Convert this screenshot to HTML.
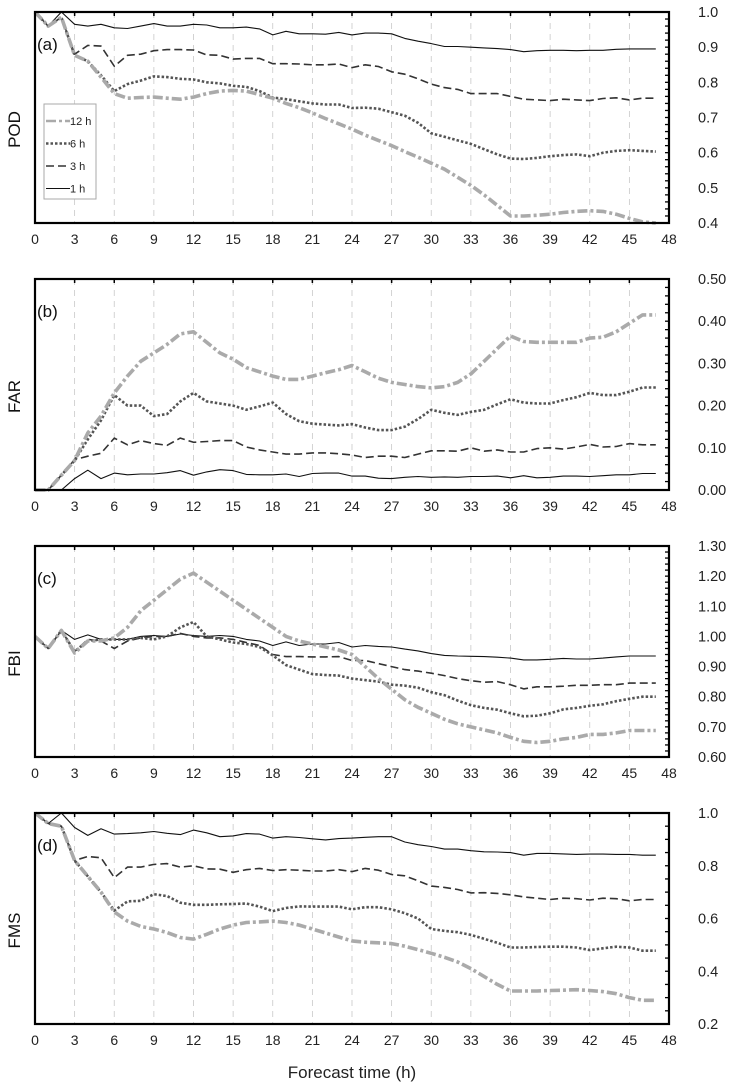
<!DOCTYPE html>
<html><head><meta charset="utf-8">
<style>
html,body{margin:0;padding:0;background:#fff;}
svg{display:block;font-family:"Liberation Sans",sans-serif;}
</style></head>
<body>
<svg id="chart" width="729" height="1089" viewBox="0 0 729 1089" xmlns="http://www.w3.org/2000/svg"></svg>
<script>
const hours = Array.from({length:48},(_,i)=>i);
const xTicks = [0,3,6,9,12,15,18,21,24,27,30,33,36,39,42,45,48];
const seriesNames = ["1 h","3 h","6 h","12 h"];

const podH1 = [1.0,0.96,1.0,0.965,0.96,0.965,0.955,0.953,0.96,0.967,0.96,0.96,0.965,0.963,0.955,0.955,0.957,0.952,0.935,0.945,0.938,0.938,0.937,0.942,0.935,0.94,0.94,0.938,0.925,0.917,0.91,0.902,0.902,0.9,0.898,0.896,0.893,0.887,0.89,0.891,0.891,0.89,0.891,0.891,0.894,0.895,0.895,0.895];
const podH3 = [1.0,0.96,0.985,0.88,0.905,0.903,0.846,0.877,0.88,0.89,0.893,0.893,0.892,0.878,0.877,0.866,0.868,0.868,0.853,0.853,0.852,0.85,0.85,0.852,0.842,0.85,0.845,0.83,0.823,0.81,0.795,0.785,0.78,0.768,0.768,0.768,0.76,0.752,0.75,0.748,0.752,0.75,0.748,0.754,0.756,0.75,0.755,0.755];
const podH6 = [1.0,0.96,0.985,0.877,0.86,0.82,0.775,0.795,0.805,0.817,0.815,0.81,0.808,0.8,0.797,0.79,0.787,0.775,0.757,0.752,0.746,0.74,0.737,0.737,0.727,0.728,0.725,0.715,0.705,0.685,0.655,0.645,0.635,0.625,0.61,0.595,0.583,0.582,0.585,0.59,0.593,0.595,0.59,0.6,0.605,0.607,0.605,0.603];
const podH12 = [1.0,0.96,0.985,0.877,0.86,0.815,0.768,0.755,0.757,0.758,0.755,0.752,0.758,0.768,0.775,0.777,0.775,0.765,0.755,0.74,0.728,0.713,0.697,0.682,0.667,0.65,0.635,0.62,0.603,0.587,0.57,0.553,0.53,0.507,0.48,0.45,0.42,0.42,0.422,0.425,0.43,0.433,0.435,0.433,0.425,0.413,0.403,0.4];

const farH1 = [0,0,0,0.027,0.047,0.027,0.04,0.036,0.038,0.038,0.041,0.046,0.035,0.043,0.048,0.046,0.037,0.036,0.036,0.038,0.032,0.039,0.04,0.04,0.033,0.033,0.028,0.027,0.03,0.032,0.03,0.031,0.03,0.032,0.032,0.033,0.029,0.034,0.029,0.03,0.033,0.033,0.032,0.034,0.036,0.036,0.039,0.039];
const farH3 = [0,0,0.035,0.072,0.08,0.087,0.123,0.107,0.117,0.11,0.106,0.123,0.113,0.115,0.117,0.117,0.102,0.095,0.09,0.085,0.085,0.088,0.088,0.086,0.083,0.077,0.08,0.08,0.077,0.085,0.093,0.093,0.092,0.1,0.092,0.095,0.09,0.09,0.098,0.1,0.097,0.102,0.108,0.102,0.103,0.11,0.107,0.107];
const farH6 = [0,0,0.035,0.07,0.12,0.165,0.225,0.2,0.2,0.175,0.18,0.21,0.23,0.21,0.205,0.2,0.19,0.198,0.207,0.18,0.163,0.157,0.155,0.153,0.156,0.148,0.142,0.142,0.15,0.168,0.19,0.183,0.178,0.185,0.19,0.203,0.215,0.207,0.205,0.205,0.213,0.22,0.23,0.225,0.225,0.233,0.243,0.243];
const farH12 = [0,0,0.035,0.07,0.135,0.175,0.23,0.27,0.305,0.325,0.345,0.37,0.375,0.35,0.325,0.31,0.29,0.28,0.27,0.262,0.262,0.27,0.278,0.285,0.295,0.28,0.265,0.255,0.25,0.245,0.242,0.245,0.255,0.275,0.305,0.335,0.365,0.352,0.35,0.35,0.35,0.35,0.36,0.362,0.375,0.395,0.415,0.415];

const fbiH1 = [1.0,0.96,1.02,0.99,1.005,0.99,0.99,0.99,1.0,1.003,1.0,1.008,1.003,1.0,1.003,1.0,0.99,0.985,0.97,0.982,0.97,0.975,0.975,0.98,0.965,0.97,0.967,0.965,0.958,0.952,0.943,0.937,0.935,0.934,0.933,0.931,0.928,0.922,0.922,0.924,0.927,0.925,0.925,0.928,0.932,0.935,0.935,0.935];
const fbiH3 = [1.0,0.96,1.02,0.95,0.99,0.985,0.96,0.985,0.995,1.0,1.0,1.01,1.0,0.995,0.995,0.99,0.98,0.97,0.94,0.933,0.933,0.932,0.932,0.933,0.92,0.92,0.91,0.9,0.89,0.885,0.878,0.87,0.86,0.853,0.848,0.85,0.84,0.826,0.833,0.833,0.835,0.838,0.838,0.84,0.84,0.845,0.845,0.845];
const fbiH6 = [1.0,0.96,1.02,0.95,0.985,0.99,0.99,0.99,0.995,0.99,1.0,1.03,1.048,1.0,0.99,0.98,0.975,0.965,0.937,0.905,0.89,0.875,0.872,0.87,0.86,0.855,0.85,0.84,0.837,0.83,0.815,0.805,0.787,0.772,0.763,0.757,0.745,0.735,0.737,0.745,0.758,0.763,0.77,0.775,0.785,0.793,0.8,0.8];
const fbiH12 = [1.0,0.96,1.02,0.945,0.985,0.985,0.995,1.03,1.085,1.12,1.155,1.19,1.21,1.18,1.15,1.12,1.09,1.06,1.03,1.0,0.985,0.975,0.965,0.955,0.94,0.9,0.86,0.825,0.79,0.765,0.745,0.725,0.71,0.7,0.69,0.68,0.665,0.652,0.648,0.652,0.66,0.665,0.675,0.675,0.68,0.688,0.688,0.688];

const fmsH1 = [1.0,0.96,1.0,0.945,0.915,0.94,0.92,0.922,0.925,0.93,0.923,0.918,0.935,0.925,0.91,0.913,0.922,0.92,0.905,0.91,0.907,0.902,0.898,0.903,0.905,0.908,0.91,0.91,0.89,0.88,0.873,0.863,0.863,0.857,0.853,0.852,0.85,0.84,0.847,0.847,0.845,0.843,0.844,0.844,0.843,0.843,0.84,0.84];
const fmsH3 = [1.0,0.96,0.95,0.82,0.835,0.83,0.755,0.795,0.795,0.805,0.808,0.795,0.8,0.788,0.787,0.775,0.785,0.79,0.782,0.785,0.783,0.78,0.78,0.785,0.778,0.79,0.783,0.767,0.762,0.743,0.723,0.718,0.71,0.697,0.698,0.695,0.69,0.682,0.677,0.672,0.677,0.675,0.67,0.677,0.675,0.667,0.672,0.672];
const fmsH6 = [1.0,0.96,0.95,0.82,0.76,0.7,0.63,0.665,0.667,0.692,0.685,0.66,0.652,0.652,0.654,0.655,0.657,0.645,0.628,0.64,0.646,0.645,0.645,0.645,0.635,0.643,0.643,0.635,0.62,0.6,0.56,0.553,0.548,0.538,0.523,0.508,0.49,0.49,0.492,0.493,0.493,0.49,0.48,0.487,0.493,0.49,0.478,0.478];
const fmsH12 = [1.0,0.96,0.95,0.82,0.76,0.7,0.625,0.59,0.57,0.56,0.547,0.528,0.522,0.54,0.56,0.575,0.585,0.587,0.59,0.585,0.575,0.56,0.545,0.53,0.515,0.51,0.508,0.505,0.495,0.482,0.468,0.453,0.435,0.41,0.38,0.35,0.325,0.325,0.325,0.327,0.328,0.33,0.327,0.323,0.315,0.3,0.29,0.29];

const podTicks = ["0.4","0.5","0.6","0.7","0.8","0.9","1.0"];
const farTicks = ["0.00","0.10","0.20","0.30","0.40","0.50"];
const fbiTicks = ["0.60","0.70","0.80","0.90","1.00","1.10","1.20","1.30"];
const fmsTicks = ["0.2","0.4","0.6","0.8","1.0"];

const panels = [
 {id:"pod",tag:"(a)",title:"POD",top:12,min:0.4,max:1.0,minor:0.02,ticks:podTicks,data:[podH1,podH3,podH6,podH12],legend:true},
 {id:"far",tag:"(b)",title:"FAR",top:279,min:0,max:0.5,minor:0.02,ticks:farTicks,data:[farH1,farH3,farH6,farH12]},
 {id:"fbi",tag:"(c)",title:"FBI",top:546,min:0.6,max:1.3,minor:0.02,ticks:fbiTicks,data:[fbiH1,fbiH3,fbiH6,fbiH12]},
 {id:"fms",tag:"(d)",title:"FMS",top:813,min:0.2,max:1.0,minor:0.05,ticks:fmsTicks,data:[fmsH1,fmsH3,fmsH6,fmsH12]}
];
const styles = [
 {stroke:"#111",w:1.1,dash:""},
 {stroke:"#333",w:1.6,dash:"8,4"},
 {stroke:"#555",w:2.6,dash:"2.5,2"},
 {stroke:"#aaa",w:3.6,dash:"10,3,3,3"}
];
const L=35,R=669,H=211;
const NS="http://www.w3.org/2000/svg";
const svg=document.getElementById("chart");
function mk(tag,attrs,parent){const e=document.createElementNS(NS,tag);for(const k in attrs)e.setAttribute(k,attrs[k]);(parent||svg).appendChild(e);return e;}
const xScale=h=>L+(R-L)*h/48;

panels.forEach(p=>{
 const g=mk("g",{});
 
 
 const T=p.top,B=T+H;
 const yScale=v=>B-(v-p.min)/(p.max-p.min)*H;
 // grid
 xTicks.slice(1,-1).forEach(h=>{
  const ln=mk("line",{x1:xScale(h),x2:xScale(h),y1:T,y2:B,stroke:"#c8c8c8","stroke-width":0.8,"stroke-dasharray":"6,5"},g);
  
  
  const tk=mk("line",{x1:xScale(h),x2:xScale(h),y1:T,y2:T+4,stroke:"#000","stroke-width":1.5},g);
  
  
 });
 // minor ticks right
 const n=Math.round((p.max-p.min)/p.minor);
 for(let i=1;i<n;i++){
  const y=yScale(p.min+i*p.minor);
  const t=mk("line",{x1:R-4,x2:R,y1:y,y2:y,stroke:"#000","stroke-width":1.3},g);
  
  
 }
 // series
 p.data.forEach((arr,si)=>{
  const s=styles[si];
  const d=arr.map((v,i)=>(i?"L":"M")+xScale(hours[i]).toFixed(1)+","+yScale(v).toFixed(1)).join(" ");
  const path=mk("path",{d:d,fill:"none",stroke:s.stroke,"stroke-width":s.w,"stroke-dasharray":s.dash,"stroke-linejoin":"round"},g);
  
  
 });
 // frame
 const fr=mk("rect",{x:L,y:T,width:R-L,height:H,fill:"none",stroke:"#000","stroke-width":2.2},g);
 
 
 // y tick labels
 p.ticks.forEach(lb=>{
  const t=mk("text",{x:698,y:yScale(parseFloat(lb))+5,"font-size":14.5,fill:"#222"},g);
  t.textContent=lb;
  
  
 });
 // x tick labels
 xTicks.forEach(h=>{
  const t=mk("text",{x:xScale(h),y:B+21,"font-size":14,"text-anchor":"middle",fill:"#222"},g);
  t.textContent=String(h);
  
  
 });
 const tg=mk("text",{x:37,y:T+38,"font-size":17,fill:"#111"},g);
 tg.textContent=p.tag;
 
 
 const yt=mk("text",{x:0,y:0,"font-size":17,"text-anchor":"middle",fill:"#111",transform:"translate(20,"+(T+H/2+12)+") rotate(-90)"},g);
 yt.textContent=p.title;
 
 
 if(p.legend){
  const lg=mk("g",{},g);
  
  
  mk("rect",{x:44,y:104,width:52,height:95,fill:"#fff",stroke:"#aaa","stroke-width":1},lg);
  [3,2,1,0].forEach((si,k)=>{
   const y=121+k*22.5, s=styles[si];
   const e=mk("g",{},lg);
   
   
   mk("line",{x1:46,x2:70,y1:y,y2:y,stroke:s.stroke,"stroke-width":Math.min(s.w,2.5),"stroke-dasharray":s.dash},e);
   const t=mk("text",{x:70,y:y+4,"font-size":11,fill:"#222"},e);
   t.textContent=seriesNames[si];
  });
 }
});
const xl=mk("text",{x:352,y:1078,"font-size":17,"text-anchor":"middle",fill:"#222"});
xl.textContent="Forecast time (h)";


</script>
</body></html>
